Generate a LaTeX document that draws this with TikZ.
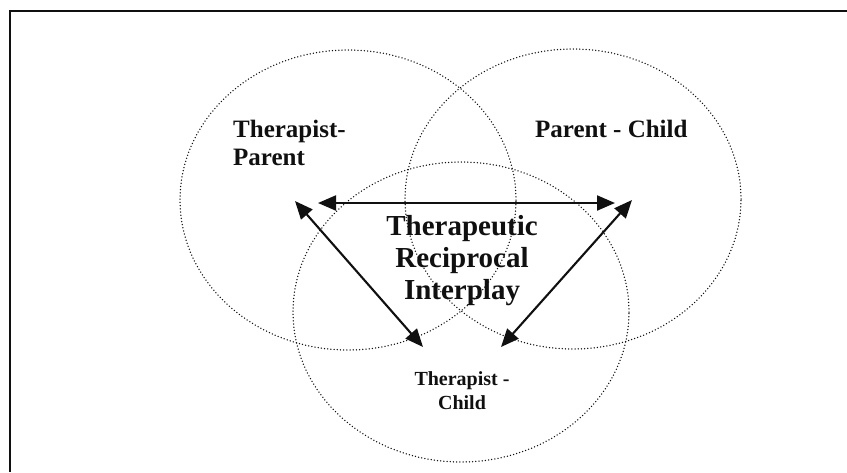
\documentclass[tikz,border=0pt]{standalone}
\usepackage{fontspec}
\setmainfont{Liberation Serif}
\usetikzlibrary{arrows.meta, shapes.geometric, positioning}
\usepackage{xcolor}
\definecolor{cInk}{HTML}{101010}
\tikzset{
  ring/.style={
    draw=cInk, ellipse, inner sep=0pt,
    minimum width=336pt, minimum height=300pt,
    line width=1.5pt, dash pattern=on 0pt off 3.2pt, line cap=round,
  },
  pairlabel/.style={
    font=\bfseries\fontsize{25}{28.3}\selectfont, text=cInk,
    inner sep=0pt, align=left,
  },
  corelabel/.style={
    font=\bfseries\fontsize{29}{32}\selectfont, text=cInk,
    inner sep=0pt, align=center,
  },
  lowlabel/.style={
    font=\bfseries\fontsize{20}{24}\selectfont, text=cInk,
    inner sep=0pt, align=center,
  },
  dblarw/.style={{Triangle[length=18pt, width=15pt]}-{Triangle[length=18pt, width=15pt]},
    line width=2.1pt, color=cInk},
}

\begin{document}
\begin{tikzpicture}[x=1pt, y=-1pt]
  \useasboundingbox (0,0) rectangle (847,472);

  % frame (top and left edges only)
  \coordinate (frTR) at (847,11);
  \coordinate (frTL) at (10,11);
  \coordinate (frBL) at (10,472);
  \draw[cInk, line width=1.4pt] (frTR) -- (frTL) -- (frBL);

  % the three relationship rings
  \node[ring] (tp) at (348,200) {};
  \node[ring] (pc) at (573,199) {};
  \node[ring] (tc) at (461,312) {};

  % labels
  \node[pairlabel, anchor=north west] (tpLab) at (233,120) {Therapist-\\Parent};
  \node[pairlabel, anchor=base west] (pcLab) at (535,137) {Parent - Child};
  \node[corelabel, anchor=north] (core) at (462,215) {Therapeutic\\Reciprocal\\Interplay};
  \node[lowlabel, anchor=north] (tcLab) at (462,371) {Therapist -\\Child};

  % arrow ends
  \coordinate (hL) at (318,203);
  \coordinate (hR) at (615,203);
  \coordinate (dLa) at (295,201);
  \coordinate (dLb) at (423,347);
  \coordinate (dRa) at (632,200);
  \coordinate (dRb) at (501,347);

  \draw[dblarw] (hL) -- (hR);
  \draw[dblarw] (dLa) -- (dLb);
  \draw[dblarw] (dRa) -- (dRb);

\end{tikzpicture}
\end{document}
